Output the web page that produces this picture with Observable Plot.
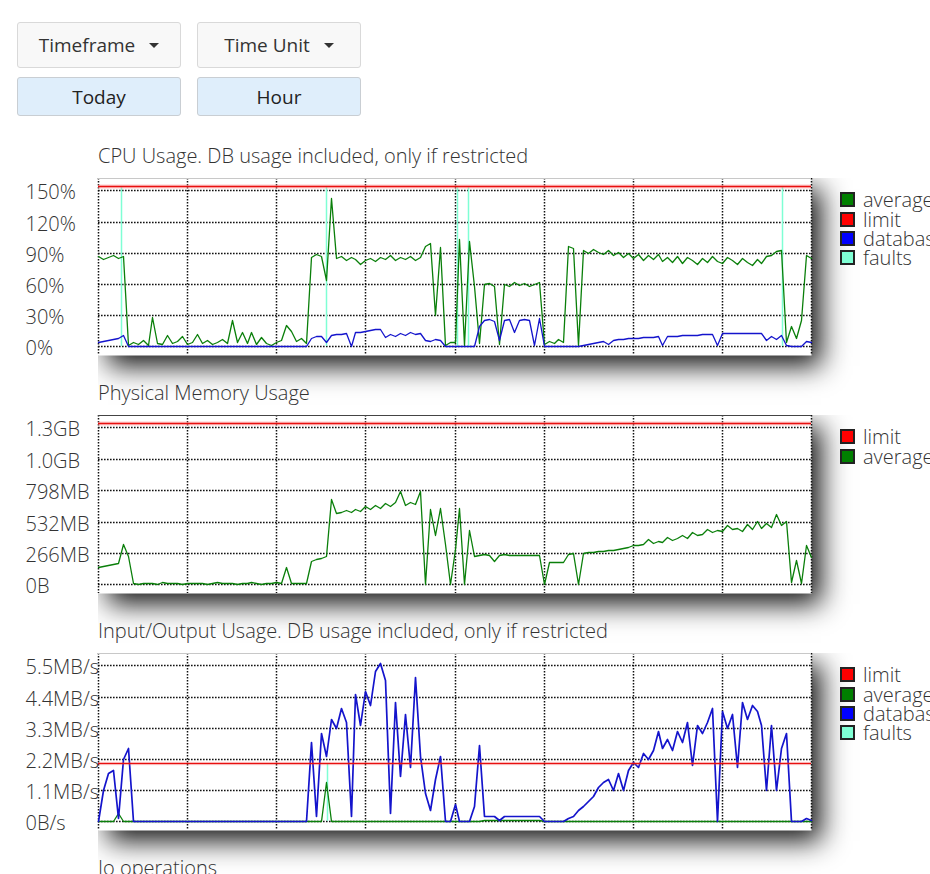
<!DOCTYPE html>
<html><head><meta charset="utf-8">
<script src="https://cdn.jsdelivr.net/npm/d3@7"></script>
<script src="https://cdn.jsdelivr.net/npm/@observablehq/plot@0.6"></script>
<style>
html,body{margin:0;padding:0;background:#fff;overflow:hidden;width:930px;height:874px;}
body{font-family:"Open Sans",sans-serif;color:#333;position:relative;}
.btn{position:absolute;box-sizing:border-box;border:1px solid #d9d9d9;border-radius:3px;font-size:19px;display:flex;align-items:center;justify-content:center;}
.dd{background:#f8f8f8;color:#333;}
.sel{background:#dfeefb;color:#222;border-color:#c9ced3;}
.caret{display:inline-block;width:0;height:0;border-left:5px solid transparent;border-right:5px solid transparent;border-top:5px solid #333;margin-left:14px;}
.title{position:absolute;left:98px;font-size:20px;line-height:27px;font-weight:300;color:#333;white-space:nowrap;}
.shadowclip{position:absolute;left:98px;overflow:hidden;width:832px;height:270px;}
.shadow{position:absolute;left:0;top:0;width:713px;background:#fff;box-shadow:10px 11px 26px rgba(0,0,0,0.92);}
.chart{position:absolute;left:0;}
.legend{position:absolute;left:840px;font-size:20px;line-height:19px;font-weight:300;color:#333;white-space:nowrap;}
.legend div{display:flex;align-items:center;height:19.4px;line-height:19px;}
.sw{box-sizing:border-box;width:15px;height:15px;border:2px solid #222;margin-right:8px;flex:none;}
</style></head><body>
<div class="btn dd" style="left:17px;top:22px;width:164px;height:46px;">Timeframe<span class="caret"></span></div>
<div class="btn dd" style="left:197px;top:22px;width:164px;height:46px;">Time Unit<span class="caret"></span></div>
<div class="btn sel" style="left:17px;top:77px;width:164px;height:39px;">Today</div>
<div class="btn sel" style="left:197px;top:77px;width:164px;height:39px;">Hour</div>
<div id="root"></div>
<script>
// ---- data (10-minute samples, 00:00 .. 24:00) ----
const sampleCount = 145;
const gridHours = [0, 3, 6, 9, 12, 15, 18, 21, 24];

const cpuTicks = [0, 30, 60, 90, 120, 150];
const cpuLimit = 154.5;
const cpuFaultHours = [0.78, 7.67, 12.07, 12.46, 23.01];
const cpuAverage = [
  87, 84, 86, 88, 85, 87, 1,
  4, 2, 6, 1, 28, 3, 2, 11, 3, 5, 10, 2, 4, 12, 3, 6, 2, 4, 7, 3, 25, 4, 14, 3, 14, 2, 9, 3, 1, 4, 6, 21, 15, 5, 8, 3,
  86, 89, 87, 64, 143, 85, 87, 83, 86, 84, 79, 83, 85, 82, 86, 84, 88, 83, 86, 84, 87, 83, 86,
  97, 99, 30, 96, 1, 4,
  4, 103, 1, 101, 58, 3, 60,
  61, 58, 2, 60, 58, 62, 59, 61, 58, 60, 62,
  2, 5, 3, 7, 4,
  97, 95, 1,
  93, 90, 94, 91, 89, 93, 88, 91, 86, 90,
  85, 89, 83, 88, 84, 89, 82, 86, 81, 87,
  80, 86, 83, 79, 85, 81, 87, 82, 80, 86,
  83, 79, 85, 81, 78, 84, 80, 87, 88, 92,
  93, 4,
  20, 8, 25, 88, 85
];
const cpuDatabase = [
  4, 5, 6, 7, 8, 11, 0,
  0, 0, 0, 0, 0, 0, 0, 0, 0, 0, 0, 0, 0, 0, 0, 0, 0, 0, 0, 0, 0, 0, 0, 0, 0, 0, 0, 0, 0, 0, 0, 0, 0, 0, 0, 0,
  8, 10, 10, 4, 11, 12, 12, 13, 0, 14, 14, 15, 16, 17, 17, 9, 12, 10, 13, 11, 14, 12, 13,
  6, 5, 7, 6,
  0, 0, 0, 0, 0, 0, 0,
  20, 25, 26, 24, 6, 25, 26, 14, 25, 26, 25, 1, 27,
  0, 0, 0, 0, 0, 0, 0, 0,
  1.5, 2.5, 3.5, 4.5, 5.5, 2, 6.5, 7, 7.5, 8,
  8, 8.5, 9, 9, 9.5, 10, 1, 10, 10.5, 10.5,
  11, 11, 11.5, 11.5, 12, 12, 12, 1, 12.5, 12.5,
  13, 13, 12.5, 13, 13, 13, 12.5, 6, 10, 7,
  11, 1, 0, 0, 0, 5, 4
];

const memTicks = [0, 266, 532, 798, 1064, 1330];
const memLimit = 1365;
const memAverage = [
  145, 155, 165, 170, 180, 340, 240,
  10, 6, 14, 8, 12, 5, 16, 9, 7, 13, 6, 11, 15, 8, 10, 5, 12, 18, 7, 9, 14, 6, 11, 8, 16, 10, 5, 13, 9, 20, 7, 150, 12, 8, 15, 10,
  200, 215, 225, 240, 720, 605, 610, 630, 615, 640, 625, 660, 640, 670, 650, 690, 660, 700, 795, 670, 700, 680, 790,
  0, 640, 420, 650, 345, 0, 300, 650, 0, 460, 240,
  250, 255, 250, 195, 250, 255, 250, 252, 248, 250, 245, 248, 245,
  0, 190, 185, 190, 190, 260, 262, 0, 265,
  270, 275, 280, 285, 290, 295, 300, 310, 320, 330,
  335, 340, 380, 350, 370, 360, 400, 375, 390, 420,
  395, 440, 415, 430, 470, 440, 460, 450, 500, 470,
  480, 455, 510, 470, 540, 480, 520, 490, 600, 500,
  540,
  20, 205, 10, 330, 230
];

const ioTicks = [0, 1.1, 2.2, 3.3, 4.4, 5.5];
const ioLimit = 2.07;
const ioFaultHours = [7.71];
const ioDatabase = [
  0, 1.1, 1.7, 1.8, 0.1, 2.2, 2.6, 0,
  0, 0, 0, 0, 0, 0, 0, 0, 0, 0, 0, 0, 0, 0, 0, 0, 0, 0, 0, 0, 0, 0, 0, 0, 0, 0, 0, 0, 0, 0, 0, 0, 0, 0, 0,
  2.8, 0.2, 3.1, 2.3, 3.6, 3.3, 4.0, 3.5, 0.2, 4.5,
  3.4, 4.6, 4.1, 5.3, 5.6, 5.0, 0.3, 4.2, 1.6, 3.8,
  1.9, 5.1, 2.3, 1.0, 0.4, 1.5, 2.3, 0,
  0, 0.6, 0, 0, 0, 0.55, 2.7,
  0.2, 0.2, 0.2, 0.05, 0.2, 0.2, 0.2, 0.2, 0.2, 0.2, 0.2, 0.2,
  0, 0, 0, 0, 0,
  0.1, 0.2, 0.4, 0.55, 0.7, 0.9, 1.2, 1.4, 1.5, 1.1,
  1.7, 1.1, 1.8, 2.1, 1.9, 2.4, 2.2, 2.5, 3.2, 2.6,
  2.9, 2.5, 3.2, 2.8, 3.5, 2.0, 3.4, 3.1, 3.5, 4.0,
  0, 3.9, 3.3, 3.8, 1.9, 4.2, 3.6, 4.1, 3.9, 3.4,
  1.1, 3.4, 1.1, 2.6, 3.1, 0, 0, 0, 0.1, 0.05
];
const ioAverage = [
  0, 0, 0, 0, 0.3, 0, 0, 0, 0, 0, 0, 0, 0, 0, 0, 0, 0, 0, 0, 0,
  0, 0, 0, 0, 0, 0, 0, 0, 0, 0, 0, 0, 0, 0, 0, 0, 0, 0, 0, 0,
  0, 0, 0, 0, 0, 0, 1.4, 0, 0, 0, 0, 0, 0, 0, 0, 0, 0, 0, 0, 0,
  0, 0, 0, 0, 0, 0, 0, 0, 0, 0, 0, 0, 0, 0, 0, 0, 0, 0, 0.05, 0.05,
  0.05, 0.05, 0.05, 0.05, 0.05, 0.05, 0.05, 0.05, 0.05, 0.05, 0, 0, 0, 0, 0, 0, 0, 0, 0, 0,
  0, 0, 0, 0, 0, 0, 0, 0, 0, 0, 0, 0, 0, 0, 0, 0, 0, 0, 0, 0,
  0, 0, 0, 0, 0, 0, 0, 0, 0, 0, 0, 0, 0, 0, 0, 0, 0, 0, 0, 0,
  0, 0, 0, 0, 0
];

const COLORS = {average: "#0a7f0a", limit: "#e81010", database: "#1414cc", faults: "#7fffd4"};
const SWATCH = {average: "#008000", limit: "#ff0000", database: "#0000ff", faults: "#7fffd4"};

const hours = d3.range(sampleCount).map(i => i / 6);
const toRows = vals => vals.map((v, i) => ({t: hours[i], v}));

function makeChart(cfg) {
  const root = document.getElementById("root");
  const t = document.createElement("div");
  t.className = "title"; t.style.top = (cfg.top - 36) + "px"; t.textContent = cfg.title;
  root.appendChild(t);
  if (!cfg.ticks) return;

  const clip = document.createElement("div");
  clip.className = "shadowclip"; clip.style.top = cfg.top + "px";
  const sh = document.createElement("div");
  sh.className = "shadow"; sh.style.height = cfg.h + "px";
  clip.appendChild(sh); root.appendChild(clip);

  const grid = {stroke: "#111", strokeOpacity: 1, strokeWidth: 1.5, strokeDasharray: "1.6,1.4"};
  const marks = [
    Plot.axisY(cfg.ticks, {tickFormat: cfg.fmt, tickSize: 0, tickPadding: 0, textAnchor: "start", dx: -73, dy: 2, fill: "#333", fontWeight: 300, label: null}),
    Plot.frame({fill: "white", stroke: "none"}),
    Plot.gridX(gridHours, grid),
    Plot.gridY(cfg.ticks, grid),
    Plot.ruleY([cfg.domain[1]], {stroke: cfg.border})
  ];
  if (cfg.faults) marks.push(Plot.ruleX(cfg.faults, {y1: 0, y2: cfg.limit, stroke: COLORS.faults, strokeWidth: 1.5}));
  for (const s of cfg.series) {
    marks.push(Plot.line(toRows(s.values), {x: "t", y: "v", stroke: COLORS[s.key], strokeWidth: s.w || 1.3}));
  }
  marks.push(Plot.ruleY([cfg.limit], {stroke: "#ff9a9a", strokeWidth: 4, strokeOpacity: cfg.glow}));
  marks.push(Plot.ruleY([cfg.limit], {stroke: COLORS.limit, strokeWidth: 1.4}));

  const svg = Plot.plot({
    width: 811, height: cfg.h,
    marginLeft: 98, marginRight: 0, marginTop: 0, marginBottom: 0,
    x: {domain: [0, 24], axis: null, round: true},
    y: {domain: cfg.domain, round: true},
    style: {fontFamily: "'Open Sans', sans-serif", fontSize: "20px", background: "transparent", color: "#333", overflow: "visible"},
    marks
  });
  const wrap = document.createElement("div");
  wrap.className = "chart"; wrap.style.top = cfg.top + "px";
  wrap.appendChild(svg); root.appendChild(wrap);

  const lg = document.createElement("div");
  lg.className = "legend"; lg.style.top = (cfg.top + 12) + "px";
  for (const k of cfg.legend) {
    const row = document.createElement("div");
    const sw = document.createElement("span"); sw.className = "sw"; sw.style.background = SWATCH[k];
    row.appendChild(sw); row.appendChild(document.createTextNode(k));
    lg.appendChild(row);
  }
  root.appendChild(lg);
}

makeChart({
  title: "CPU Usage. DB usage included, only if restricted",
  top: 178, h: 177, domain: [-8.2, 161.9], ticks: cpuTicks, fmt: d => d + "%",
  border: "#c8c8c8", limit: cpuLimit, glow: 0.5, faults: cpuFaultHours,
  series: [{key: "average", values: cpuAverage}, {key: "database", values: cpuDatabase}],
  legend: ["average", "limit", "database", "faults"]
});
makeChart({
  title: "Physical Memory Usage",
  top: 415, h: 178, domain: [-74, 1436], ticks: memTicks,
  fmt: d => d === 0 ? "0B" : d < 1000 ? d + "MB" : (d / 1024).toFixed(1) + "GB",
  border: "#444", limit: memLimit, glow: 0.5,
  series: [{key: "average", values: memAverage}],
  legend: ["limit", "average"]
});
makeChart({
  title: "Input/Output Usage. DB usage included, only if restricted",
  top: 653, h: 177, domain: [-0.31, 5.94], ticks: ioTicks,
  fmt: d => d === 0 ? "0B/s" : d.toFixed(1) + "MB/s",
  border: "#c8c8c8", limit: ioLimit, glow: 0.15, faults: ioFaultHours,
  series: [{key: "average", values: ioAverage}, {key: "database", values: ioDatabase, w: 1.7}],
  legend: ["limit", "average", "database", "faults"]
});
makeChart({title: "Io operations", top: 890});
</script>
</body></html>
